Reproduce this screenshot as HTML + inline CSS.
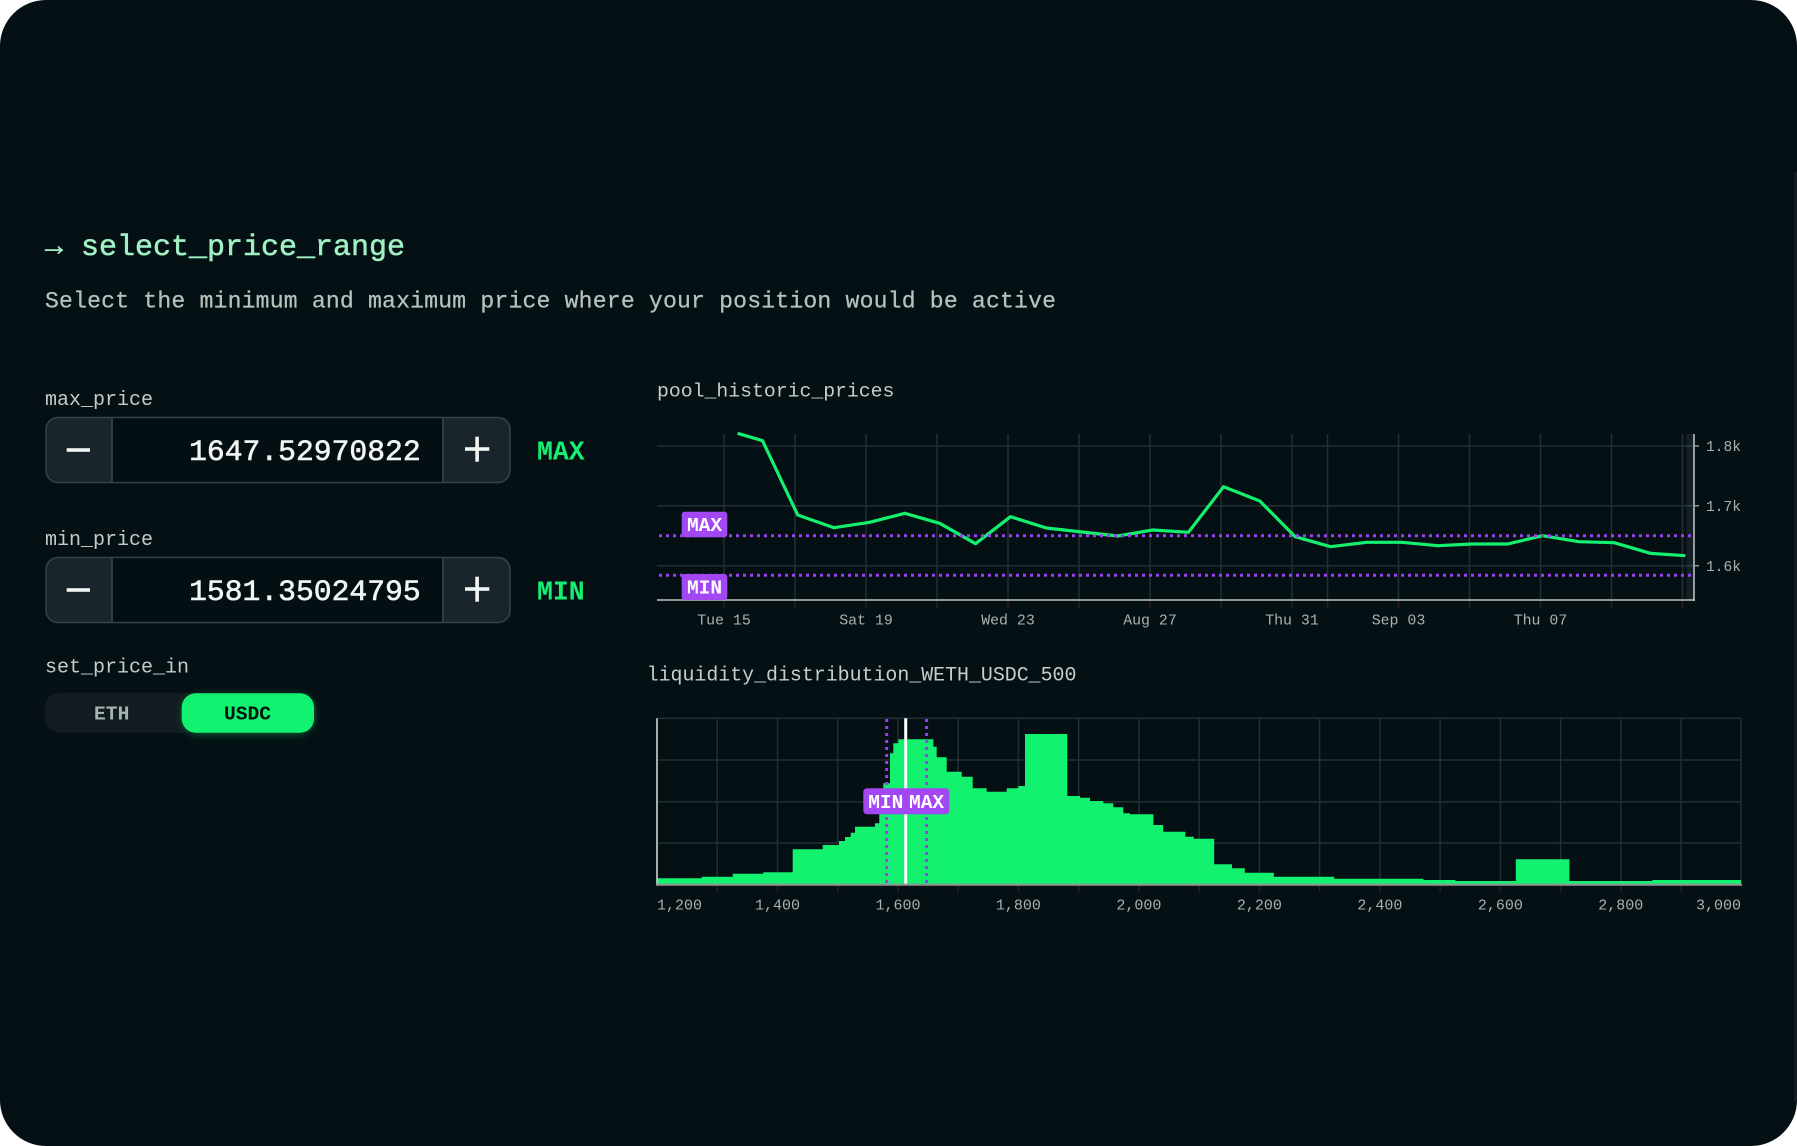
<!DOCTYPE html>
<html>
<head>
<meta charset="utf-8">
<style>
html,body{margin:0;padding:0;background:#ffffff;width:1797px;height:1146px;overflow:hidden;}
svg{display:block;}
.m{font-family:"Liberation Mono","DejaVu Sans Mono",monospace;}
</style>
</head>
<body>
<svg width="1797" height="1146" viewBox="0 0 1797 1146" xmlns="http://www.w3.org/2000/svg">
  <defs>
    <clipPath id="clipTop"><rect x="657" y="432" width="1037" height="170"/></clipPath>
    <filter id="glow" x="-30%" y="-60%" width="160%" height="220%">
      <feGaussianBlur stdDeviation="5"/>
    </filter>
  </defs>

  <!-- page background -->
  <rect x="0" y="0" width="1797" height="1146" rx="46" ry="46" fill="#041014"/>
  <rect x="1794" y="172" width="3" height="930" fill="#141d21"/>

  <!-- header -->
  <text class="m" x="45" y="255" font-size="30" fill="#a0f0c4" stroke="#a0f0c4" stroke-width="0.5">→ select_price_range</text>
  <text class="m" x="45" y="307.3" font-size="23.1" fill="#b6c2bc" stroke="#b6c2bc" stroke-width="0.25" textLength="1011" lengthAdjust="spacing">Select the minimum and maximum price where your position would be active</text>

  <!-- max_price -->
  <text class="m" x="45" y="405" font-size="20" fill="#c2ccc8">max_price</text>
  <g>
    <rect x="46" y="417.5" width="464" height="65" rx="12" ry="12" fill="#19252a" stroke="#34444a" stroke-width="1.5"/>
    <rect x="112" y="418.3" width="331" height="63.4" fill="#040f13"/>
    <line x1="112" y1="418.3" x2="112" y2="481.7" stroke="#34444a" stroke-width="1.7"/>
    <line x1="443" y1="418.3" x2="443" y2="481.7" stroke="#34444a" stroke-width="1.7"/>
    <rect x="66.7" y="448.2" width="23.3" height="3.6" fill="#f2f5f4"/>
    <rect x="465" y="447.2" width="24.3" height="3.6" fill="#f2f5f4"/>
    <rect x="475.3" y="436.7" width="3.6" height="25" fill="#f2f5f4"/>
    <text class="m" x="420.7" y="460" font-size="29.7" fill="#f2f5f4" stroke="#f2f5f4" stroke-width="0.6" text-anchor="end">1647.52970822</text>
    <text class="m" x="537" y="459.3" font-size="26.5" font-weight="bold" fill="#16f072">MAX</text>
  </g>

  <!-- min_price -->
  <text class="m" x="45" y="545" font-size="20" fill="#c2ccc8">min_price</text>
  <g>
    <rect x="46" y="557.5" width="464" height="65" rx="12" ry="12" fill="#19252a" stroke="#34444a" stroke-width="1.5"/>
    <rect x="112" y="558.3" width="331" height="63.4" fill="#040f13"/>
    <line x1="112" y1="558.3" x2="112" y2="621.7" stroke="#34444a" stroke-width="1.7"/>
    <line x1="443" y1="558.3" x2="443" y2="621.7" stroke="#34444a" stroke-width="1.7"/>
    <rect x="66.7" y="588.2" width="23.3" height="3.6" fill="#f2f5f4"/>
    <rect x="465" y="587.2" width="24.3" height="3.6" fill="#f2f5f4"/>
    <rect x="475.3" y="576.7" width="3.6" height="25" fill="#f2f5f4"/>
    <text class="m" x="420.7" y="600" font-size="29.7" fill="#f2f5f4" stroke="#f2f5f4" stroke-width="0.6" text-anchor="end">1581.35024795</text>
    <text class="m" x="537" y="599.3" font-size="26.5" font-weight="bold" fill="#16f072">MIN</text>
  </g>

  <!-- set_price_in toggle -->
  <text class="m" x="45" y="672.3" font-size="20" fill="#c2ccc8">set_price_in</text>
  <rect x="45" y="692.7" width="271.7" height="40" rx="14" ry="14" fill="#121c20"/>
  <rect x="184" y="697" width="128" height="36" rx="14" ry="14" fill="#12f270" opacity="0.45" filter="url(#glow)"/>
  <rect x="181.7" y="693.3" width="132.3" height="39.4" rx="14" ry="14" fill="#12f270"/>
  <text class="m" x="111.7" y="719.3" font-size="19.6" font-weight="bold" fill="#a6b5ae" text-anchor="middle">ETH</text>
  <text class="m" x="247.5" y="719.3" font-size="19.6" font-weight="bold" fill="#03150c" text-anchor="middle">USDC</text>

  <!-- ============ TOP CHART: pool_historic_prices ============ -->
  <text class="m" x="657" y="396.7" font-size="19.8" fill="#c4cfca">pool_historic_prices</text>
  <g stroke="#222f33" stroke-width="1.5">
    <line x1="657" y1="446" x2="1694" y2="446"/>
    <line x1="657" y1="505.7" x2="1694" y2="505.7"/>
    <line x1="657" y1="565.7" x2="1694" y2="565.7"/>
    <line x1="724" y1="434" x2="724" y2="600"/>
    <line x1="795" y1="434" x2="795" y2="600"/>
    <line x1="866" y1="434" x2="866" y2="600"/>
    <line x1="937" y1="434" x2="937" y2="600"/>
    <line x1="1008" y1="434" x2="1008" y2="600"/>
    <line x1="1079" y1="434" x2="1079" y2="600"/>
    <line x1="1150" y1="434" x2="1150" y2="600"/>
    <line x1="1221" y1="434" x2="1221" y2="600"/>
    <line x1="1292" y1="434" x2="1292" y2="600"/>
    <line x1="1327.5" y1="434" x2="1327.5" y2="600"/>
    <line x1="1398.5" y1="434" x2="1398.5" y2="600"/>
    <line x1="1469.5" y1="434" x2="1469.5" y2="600"/>
    <line x1="1540.5" y1="434" x2="1540.5" y2="600"/>
    <line x1="1611.5" y1="434" x2="1611.5" y2="600"/>
    <line x1="1682.5" y1="434" x2="1682.5" y2="600"/>
  </g>
  <g stroke="#2a1e1e" stroke-width="1.5">
    <line x1="724" y1="601" x2="724" y2="608"/><line x1="795" y1="601" x2="795" y2="608"/>
    <line x1="866" y1="601" x2="866" y2="608"/><line x1="937" y1="601" x2="937" y2="608"/>
    <line x1="1008" y1="601" x2="1008" y2="608"/><line x1="1079" y1="601" x2="1079" y2="608"/>
    <line x1="1150" y1="601" x2="1150" y2="608"/><line x1="1221" y1="601" x2="1221" y2="608"/>
    <line x1="1292" y1="601" x2="1292" y2="608"/><line x1="1327.5" y1="601" x2="1327.5" y2="608"/>
    <line x1="1398.5" y1="601" x2="1398.5" y2="608"/><line x1="1469.5" y1="601" x2="1469.5" y2="608"/>
    <line x1="1540.5" y1="601" x2="1540.5" y2="608"/><line x1="1611.5" y1="601" x2="1611.5" y2="608"/>
    <line x1="1682.5" y1="601" x2="1682.5" y2="608"/>
  </g>
  <rect x="1686.6" y="434" width="7.4" height="166" fill="#ffffff" opacity="0.07"/>
  <!-- price line -->
  <polyline clip-path="url(#clipTop)" fill="none" stroke="#14f06e" stroke-width="3.2" stroke-linejoin="round"
    points="737.6,433.3 762.5,440.7 797.7,515 834,527.7 869.6,522.3 904.8,513.3 939.7,523.3 975.6,543.7 1010.5,516.7 1046.4,528 1082,532 1117.6,536 1152.8,530 1188.4,532.3 1223.6,486.7 1259.8,501 1295.2,536.7 1330.6,546.7 1366.7,542.3 1401.8,542.3 1437.9,545.7 1472.2,544 1507.6,544 1542.6,535.7 1578.8,541.7 1614.2,542.7 1650.4,553.3 1685.4,555.7"/>
  <!-- dotted max/min -->
  <line x1="659" y1="535.7" x2="1694" y2="535.7" stroke="#9d3ff0" stroke-width="3" stroke-dasharray="3 4"/>
  <line x1="659" y1="575.3" x2="1694" y2="575.3" stroke="#9d3ff0" stroke-width="3" stroke-dasharray="3 4"/>
  <!-- axes -->
  <line x1="657" y1="600" x2="1695" y2="600" stroke="#8d9894" stroke-width="2"/>
  <line x1="1694" y1="434" x2="1694" y2="601" stroke="#b9c1be" stroke-width="1.6"/>
  <g stroke="#8d9894" stroke-width="1.5">
    <line x1="1694" y1="446" x2="1699" y2="446"/>
    <line x1="1694" y1="505.7" x2="1699" y2="505.7"/>
    <line x1="1694" y1="565.7" x2="1699" y2="565.7"/>
  </g>
  <!-- labels -->
  <rect x="681.7" y="511.7" width="45.6" height="25.6" rx="3" fill="#a247f2"/>
  <text class="m" x="704.5" y="531" font-size="19.5" font-weight="bold" fill="#ffffff" text-anchor="middle">MAX</text>
  <rect x="681.7" y="574" width="45.6" height="26" rx="3" fill="#a247f2"/>
  <text class="m" x="704.5" y="593.7" font-size="19.5" font-weight="bold" fill="#ffffff" text-anchor="middle">MIN</text>
  <!-- tick labels -->
  <g class="m" font-size="14.9" fill="#a8b2ae" text-anchor="middle">
    <text x="724" y="624.5">Tue 15</text>
    <text x="866" y="624.5">Sat 19</text>
    <text x="1008" y="624.5">Wed 23</text>
    <text x="1150" y="624.5">Aug 27</text>
    <text x="1292" y="624.5">Thu 31</text>
    <text x="1398.5" y="624.5">Sep 03</text>
    <text x="1540.5" y="624.5">Thu 07</text>
  </g>
  <g class="m" font-size="14.6" fill="#a8b2ae">
    <text x="1706" y="451">1.8k</text>
    <text x="1706" y="511">1.7k</text>
    <text x="1706" y="571">1.6k</text>
  </g>

  <!-- ============ BOTTOM CHART: liquidity ============ -->
  <text class="m" x="646.7" y="680.7" font-size="19.9" fill="#c4cfca">liquidity_distribution_WETH_USDC_500</text>
  <g stroke="#222f33" stroke-width="1.5">
    <line x1="657" y1="718.3" x2="1741" y2="718.3"/>
    <line x1="657" y1="760" x2="1741" y2="760"/>
    <line x1="657" y1="801.7" x2="1741" y2="801.7"/>
    <line x1="657" y1="843" x2="1741" y2="843"/>
    <line x1="717.2" y1="718.3" x2="717.2" y2="884.7"/>
    <line x1="777.5" y1="718.3" x2="777.5" y2="884.7"/>
    <line x1="837.7" y1="718.3" x2="837.7" y2="884.7"/>
    <line x1="898" y1="718.3" x2="898" y2="884.7"/>
    <line x1="958.2" y1="718.3" x2="958.2" y2="884.7"/>
    <line x1="1018.4" y1="718.3" x2="1018.4" y2="884.7"/>
    <line x1="1078.7" y1="718.3" x2="1078.7" y2="884.7"/>
    <line x1="1138.9" y1="718.3" x2="1138.9" y2="884.7"/>
    <line x1="1199.2" y1="718.3" x2="1199.2" y2="884.7"/>
    <line x1="1259.4" y1="718.3" x2="1259.4" y2="884.7"/>
    <line x1="1319.6" y1="718.3" x2="1319.6" y2="884.7"/>
    <line x1="1379.9" y1="718.3" x2="1379.9" y2="884.7"/>
    <line x1="1440.1" y1="718.3" x2="1440.1" y2="884.7"/>
    <line x1="1500.4" y1="718.3" x2="1500.4" y2="884.7"/>
    <line x1="1560.6" y1="718.3" x2="1560.6" y2="884.7"/>
    <line x1="1620.8" y1="718.3" x2="1620.8" y2="884.7"/>
    <line x1="1681.1" y1="718.3" x2="1681.1" y2="884.7"/>
    <line x1="1741" y1="718.3" x2="1741" y2="884.7"/>
  </g>
  <g stroke="#2a1e1e" stroke-width="1.5">
    <line x1="717.2" y1="886" x2="717.2" y2="892"/><line x1="777.5" y1="886" x2="777.5" y2="892"/>
    <line x1="837.7" y1="886" x2="837.7" y2="892"/><line x1="898" y1="886" x2="898" y2="892"/>
    <line x1="958.2" y1="886" x2="958.2" y2="892"/><line x1="1018.4" y1="886" x2="1018.4" y2="892"/>
    <line x1="1078.7" y1="886" x2="1078.7" y2="892"/><line x1="1138.9" y1="886" x2="1138.9" y2="892"/>
    <line x1="1199.2" y1="886" x2="1199.2" y2="892"/><line x1="1259.4" y1="886" x2="1259.4" y2="892"/>
    <line x1="1319.6" y1="886" x2="1319.6" y2="892"/><line x1="1379.9" y1="886" x2="1379.9" y2="892"/>
    <line x1="1440.1" y1="886" x2="1440.1" y2="892"/><line x1="1500.4" y1="886" x2="1500.4" y2="892"/>
    <line x1="1560.6" y1="886" x2="1560.6" y2="892"/><line x1="1620.8" y1="886" x2="1620.8" y2="892"/>
    <line x1="1681.1" y1="886" x2="1681.1" y2="892"/>
  </g>
  <!-- histogram -->
  <path fill="#12f26f" d="M657,884.7 V878.3 H701.7 V876.7 H732.7 V873.7 H763.3 V872.3 H792.7 V849.3 H822.7 V845 H839 V841 H845 V837 H850.7 V832.7 H855 V826.7 H875 V823.3 H879.3 V813.3 H883.3 V783.3 H890 V753.3 H893.3 V743.3 H898.3 V739.3 H933.3 V746.7 H936.7 V757.3 H946.7 V771.7 H961.7 V776.7 H972.7 V788.3 H986.7 V791.7 H1006.7 V788.3 H1018.3 V786 H1025 V734 H1067.3 V796 H1080 V797.7 H1090 V801 H1103.3 V803.3 H1113.3 V807.3 H1123.3 V813.3 H1130 V814.3 H1153.4 V825 H1163.2 V831.7 H1185.3 V836.7 H1193.8 V838.7 H1214.2 V864.3 H1232 V868.3 H1244.8 V872.7 H1273.8 V876.7 H1334.2 V878.7 H1423.5 V880 H1455.4 V881 H1515.8 V859.3 H1569.4 V881 H1652.3 V880 H1741 V884.7 Z"/>
  <!-- min/max dotted verticals -->
  <line x1="886.7" y1="719" x2="886.7" y2="884" stroke="#9d3ff0" stroke-width="3" stroke-dasharray="3 4"/>
  <line x1="926.6" y1="719" x2="926.6" y2="884" stroke="#9d3ff0" stroke-width="3" stroke-dasharray="3 4"/>
  <!-- current price -->
  <line x1="905.7" y1="718.3" x2="905.7" y2="884.7" stroke="#ffffff" stroke-width="3"/>
  <!-- axes -->
  <line x1="657" y1="718.3" x2="657" y2="885" stroke="#cfd6d3" stroke-width="1.6"/>
  <line x1="656" y1="884.7" x2="1742" y2="884.7" stroke="#8d9894" stroke-width="2.2"/>
  <!-- label -->
  <rect x="863.3" y="788.3" width="86" height="26" rx="3.5" fill="#a247f2"/>
  <text class="m" x="885.8" y="808" font-size="19.5" font-weight="bold" fill="#ffffff" text-anchor="middle">MIN</text>
  <text class="m" x="926.6" y="808" font-size="19.5" font-weight="bold" fill="#ffffff" text-anchor="middle">MAX</text>
  <!-- x labels -->
  <g class="m" font-size="15" fill="#a8b2ae">
    <text x="657" y="909.5">1,200</text>
    <text x="777.5" y="909.5" text-anchor="middle">1,400</text>
    <text x="898" y="909.5" text-anchor="middle">1,600</text>
    <text x="1018.4" y="909.5" text-anchor="middle">1,800</text>
    <text x="1138.9" y="909.5" text-anchor="middle">2,000</text>
    <text x="1259.4" y="909.5" text-anchor="middle">2,200</text>
    <text x="1379.9" y="909.5" text-anchor="middle">2,400</text>
    <text x="1500.4" y="909.5" text-anchor="middle">2,600</text>
    <text x="1620.8" y="909.5" text-anchor="middle">2,800</text>
    <text x="1741" y="909.5" text-anchor="end">3,000</text>
  </g>
</svg>
</body>
</html>
